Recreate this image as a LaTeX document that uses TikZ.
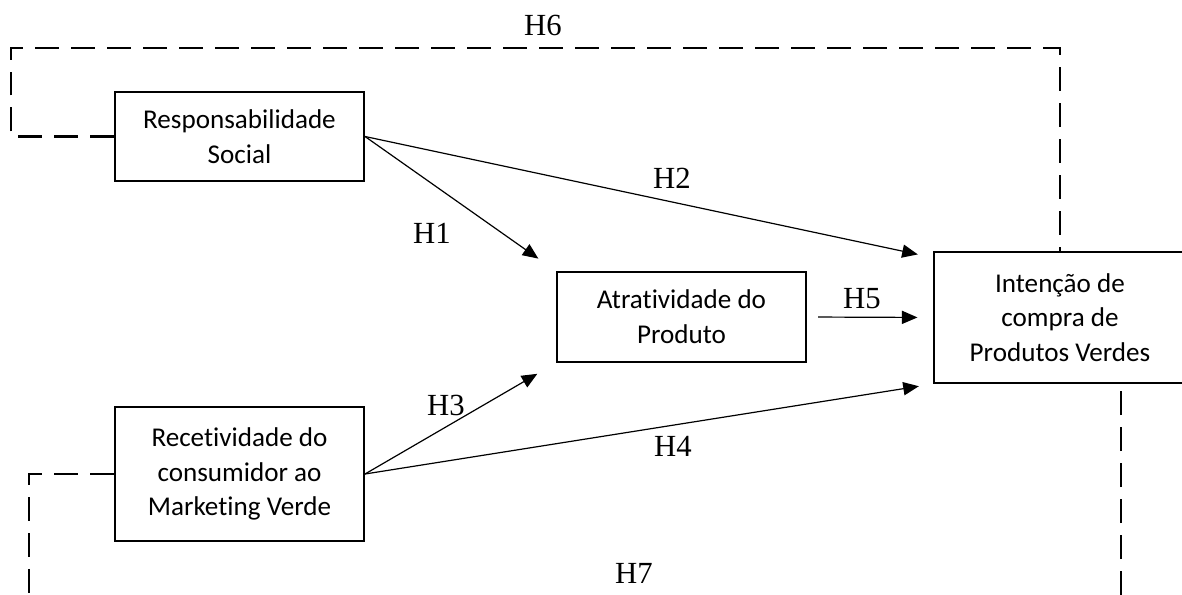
\documentclass[tikz,border=0pt]{standalone}
\usepackage{fontspec}
\setmainfont{Carlito}[Ligatures=NoCommon]
\newfontfamily\hypfont{Liberation Serif}
\usetikzlibrary{arrows.meta, calc}
\tikzstyle{construct} = [rectangle, draw=black, line width=0.8pt, align=center, inner sep=0pt, minimum width=103.8pt, font=\fontsize{11.3}{14.5}\selectfont]
\tikzstyle{hyp} = [font=\hypfont\fontsize{12.8}{15}\selectfont, inner sep=0pt]
\tikzstyle{arrow} = [line width=0.5pt, -{Triangle[length=6.5pt,width=5.5pt]}, shorten >=6.5pt]
\tikzstyle{mediation} = [line width=1pt, dash pattern=on 10pt off 5pt]
\begin{document}
\begin{tikzpicture}[x=0.4167pt, y=-0.4167pt]
                \useasboundingbox (0,0) rectangle (1182,595);
                \node (resp) [construct, minimum height=37.1pt] at (239.5,136.5) {Responsabilidade\\Social};
                \node (atrat) [construct, minimum height=37.5pt] at (681.5,317) {Atratividade do\\Produto};
                \node (intencao) [construct, minimum width=105pt, minimum height=54.6pt] at (1060,317.5) {Intenção de\\compra de\\Produtos Verdes};
                \node (recet) [construct, minimum height=55.8pt] at (239.5,474) {Recetividade do\\consumidor ao\\Marketing Verde};

                \coordinate (h6corner) at (11,48);
                \coordinate (h7left) at (29,612);
                \coordinate (h7right) at (1121,612);

                \draw [arrow, shorten >=9pt] (resp.east) -- (atrat.north west);
                \draw [arrow] (resp.east) -- ($(intencao.west)!0.9!(intencao.north west)$);
                \draw [arrow, shorten <=4.6pt] (atrat.east) -- (intencao.west);
                \draw [arrow, shorten >=9pt] (recet.east) -- (atrat.south west);
                \draw [arrow, shorten >=6pt] (recet.east) -- (intencao.south west);

                \draw [mediation] (resp.west) -| (h6corner) -| (intencao.north);
                \draw [mediation] (recet.west) -| (h7left) -- (h7right) -- (h7right |- intencao.south);

                \node (h1) [hyp] at (432,233) {H1};
                \node (h2) [hyp] at (672,178) {H2};
                \node (h3) [hyp] at (446,405) {H3};
                \node (h4) [hyp] at (673,446) {H4};
                \node (h5) [hyp] at (862,299) {H5};
                \node (h6) [hyp] at (543,25) {H6};
                \node (h7) [hyp] at (634,573) {H7};

            \end{tikzpicture}
\end{document}
